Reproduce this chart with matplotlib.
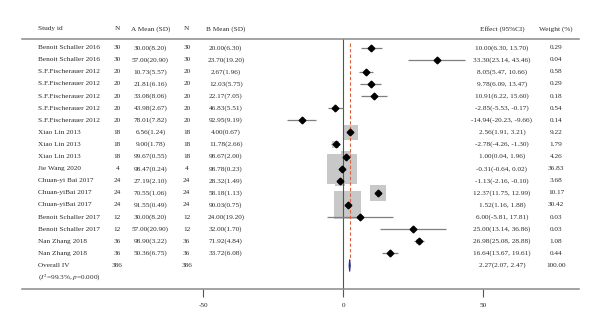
import numpy as np
import matplotlib
matplotlib.use("Agg")
import matplotlib.pyplot as plt
from matplotlib.transforms import blended_transform_factory
from matplotlib.patches import Polygon

# ---- study data ----
studies = [
    "Benoit Schaller 2016", "Benoit Schaller 2016",
    "S.F.Fischerauer 2012", "S.F.Fischerauer 2012", "S.F.Fischerauer 2012",
    "S.F.Fischerauer 2012", "S.F.Fischerauer 2012",
    "Xiao Lin 2013", "Xiao Lin 2013", "Xiao Lin 2013",
    "Jie Wang 2020",
    "Chuan-yi Bai 2017", "Chuan-yiBai 2017", "Chuan-yiBai 2017",
    "Benoit Schaller 2017", "Benoit Schaller 2017",
    "Nan Zhang 2018", "Nan Zhang 2018",
]
n_a = [30, 30, 20, 20, 20, 20, 20, 18, 18, 18, 4, 24, 24, 24, 12, 12, 36, 36]
mean_a = [30.00, 57.00, 10.73, 21.81, 33.08, 43.98, 78.01, 6.56, 9.00, 99.67,
          98.47, 27.19, 70.55, 91.55, 30.00, 57.00, 98.90, 50.36]
sd_a = [8.20, 20.90, 5.57, 6.16, 8.06, 2.67, 7.82, 1.24, 1.78, 0.55,
        0.24, 2.10, 1.06, 0.49, 8.20, 20.90, 3.22, 6.75]
n_b = [30, 30, 20, 20, 20, 20, 20, 18, 18, 18, 4, 24, 24, 24, 12, 12, 36, 36]
mean_b = [20.00, 23.70, 2.67, 12.03, 22.17, 46.83, 92.95, 4.00, 11.78, 98.67,
          98.78, 28.32, 58.18, 90.03, 24.00, 32.00, 71.92, 33.72]
sd_b = [6.30, 19.20, 1.96, 5.75, 7.05, 5.51, 9.19, 0.67, 2.66, 2.00,
        0.23, 1.49, 1.13, 0.75, 19.20, 1.70, 4.84, 6.08]
effect = [10.00, 33.30, 8.05, 9.78, 10.91, -2.85, -14.94, 2.56, -2.78, 1.00,
          -0.31, -1.13, 12.37, 1.52, 6.00, 25.00, 26.98, 16.64]
ci_low = [6.30, 23.14, 5.47, 6.09, 6.22, -5.53, -20.23, 1.91, -4.26, 0.04,
          -0.64, -2.16, 11.75, 1.16, -5.81, 13.14, 25.08, 13.67]
ci_high = [13.70, 43.46, 10.66, 13.47, 15.60, -0.17, -9.66, 3.21, -1.30, 1.96,
           0.02, -0.10, 12.99, 1.88, 17.81, 36.86, 28.88, 19.61]
weight = [0.29, 0.04, 0.58, 0.29, 0.18, 0.54, 0.14, 9.22, 1.79, 4.26,
          36.83, 3.68, 10.17, 30.42, 0.03, 0.03, 1.08, 0.44]

overall_label = "Overall IV"
overall_n_a = 386
overall_n_b = 386
overall_effect = 2.27
overall_low = 2.07
overall_high = 2.47
overall_weight = 100.00
i_squared = 99.3
p_value = 0.000

headers = ["Study id", "N", "A Mean (SD)", "N", "B Mean (SD)",
           "Effect (95%CI)", "Weight (%)"]
xticks = [-50, 0, 50]

# ---- styling ----
plt.rcParams['font.family'] = ['Liberation Serif', 'DejaVu Serif']
plt.rcParams['mathtext.fontset'] = 'stix'
txt_color = '#2a2a2a'
fs = 5.2
line_gray = '#8a8a8a'

fig = plt.figure(figsize=(6, 3.33), dpi=100)
ax = fig.add_axes([0.0362, 0.1312, 0.9288, 0.7508])

n_rows = len(studies)
rows = np.arange(1, n_rows + 1)
overall_row = n_rows + 1
stat_row = n_rows + 2

ax.set_xlim(-114.9, 84.2)
ax.set_ylim(stat_row + 0.97, 0.306)

for side in ('left', 'right'):
    ax.spines[side].set_visible(False)
for side in ('top', 'bottom'):
    ax.spines[side].set_color(line_gray)
    ax.spines[side].set_linewidth(1.1)
ax.set_yticks([])
ax.set_xticks(xticks)
ax.set_xticklabels([f"{t:d}" for t in xticks])
ax.tick_params(axis='x', direction='out', length=5.8, width=0.8,
               color='#555555', labelsize=fs, labelcolor=txt_color, pad=4)

# reference line at zero
ax.axvline(0, color='#555555', lw=0.8, zorder=2)

# study weight boxes (side proportional to sqrt(weight))
w = np.array(weight)
side_px = 30 * np.sqrt(w / 36.83)
side_pt = side_px * 72 / fig.dpi
ax.scatter(effect, rows, marker='s', s=side_pt ** 2, color='#c8c8c8',
           linewidths=0, zorder=1)

# confidence intervals and point estimates
ax.hlines(rows, ci_low, ci_high, color='#7f7f7f', lw=0.9, zorder=2)
ax.plot(effect, rows, 'D', ms=3.4, color='black', zorder=4)

# pooled estimate line
ax.plot([overall_effect, overall_effect], [0.6, overall_row - 0.45],
        ls=(0, (3, 2)), color='#d9603b', lw=0.8, zorder=3)

# pooled estimate diamond
dh = 0.5
diamond = Polygon([[overall_low, overall_row], [overall_effect, overall_row - dh],
                   [overall_high, overall_row], [overall_effect, overall_row + dh]],
                  closed=True, facecolor='#6a5acd', edgecolor='#2e2a8a',
                  lw=0.8, zorder=4)
ax.add_patch(diamond)

# ---- table text ----
tr = blended_transform_factory(ax.transAxes, ax.transData)
col_x = {'study': 0.0287, 'na': 0.1715, 'ma': 0.2311, 'nb': 0.2961,
         'mb': 0.3662, 'eff': 0.8618, 'wt': 0.9587}
kw = dict(transform=tr, fontsize=fs, color=txt_color, va='center',
          clip_on=False)

header_y = -0.545
header_pos = [('study', 'left'), ('na', 'center'), ('ma', 'center'),
              ('nb', 'center'), ('mb', 'center'), ('eff', 'center'),
              ('wt', 'center')]
for text, (key, ha) in zip(headers, header_pos):
    ax.text(col_x[key], header_y, text, ha=ha, **kw)

for i, r in enumerate(rows):
    ax.text(col_x['study'], r, studies[i], ha='left', **kw)
    ax.text(col_x['na'], r, f"{n_a[i]}", ha='center', **kw)
    ax.text(col_x['ma'], r, f"{mean_a[i]:.2f}({sd_a[i]:.2f})", ha='center', **kw)
    ax.text(col_x['nb'], r, f"{n_b[i]}", ha='center', **kw)
    ax.text(col_x['mb'], r, f"{mean_b[i]:.2f}({sd_b[i]:.2f})", ha='center', **kw)
    ax.text(col_x['eff'], r, f"{effect[i]:.2f}({ci_low[i]:.2f}, {ci_high[i]:.2f})",
            ha='center', **kw)
    ax.text(col_x['wt'], r, f"{weight[i]:.2f}", ha='center', **kw)

ax.text(col_x['study'], overall_row, overall_label, ha='left', **kw)
ax.text(col_x['na'], overall_row, f"{overall_n_a}", ha='center', **kw)
ax.text(col_x['nb'], overall_row, f"{overall_n_b}", ha='center', **kw)
ax.text(col_x['eff'], overall_row,
        f"{overall_effect:.2f}({overall_low:.2f}, {overall_high:.2f})",
        ha='center', **kw)
ax.text(col_x['wt'], overall_row, f"{overall_weight:.2f}", ha='center', **kw)
ax.text(col_x['study'], stat_row,
        rf"($\mathit{{I}}^2$={i_squared:.1f}%, $\mathit{{p}}$={p_value:.3f})",
        ha='left', **kw)

fig.savefig("out.png", dpi=100)
